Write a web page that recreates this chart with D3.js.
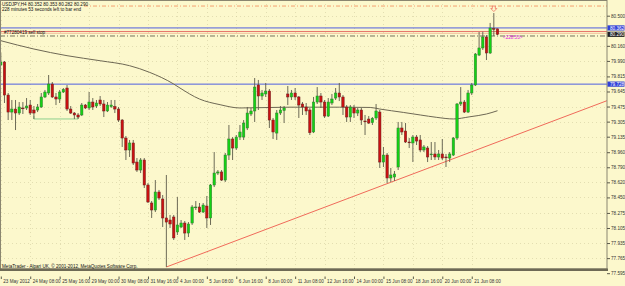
<!DOCTYPE html>
<html>
<head>
<meta charset="utf-8">
<script src="https://cdn.jsdelivr.net/npm/d3@7"></script>
<style>
  body { margin: 0; background: #fcf8cc; }
  svg { display: block; }
  text { font-family: "Liberation Sans", Arial, sans-serif; }
</style>
</head>
<body>
<svg id="chart" width="625" height="286"></svg>
<script>
// USDJPY H4, 23 May 2012 00:00 .. 22 Jun 2012 12:00 (one entry per bar)
const opens = [
  79.944,79.978,79.605,79.413,79.447,79.402,79.459,79.459,79.492,79.436,
  79.436,79.470,79.583,79.628,79.729,79.583,79.560,79.639,79.684,79.447,
  79.402,79.380,79.380,79.492,79.459,79.526,79.481,79.549,79.504,79.425,
  79.475,79.475,79.447,79.323,79.120,78.985,79.064,78.849,78.759,78.872,
  78.590,78.387,78.308,78.511,78.432,78.218,78.195,78.229,78.060,78.116,
  78.161,78.048,78.161,78.336,78.342,78.285,78.353,78.218,78.590,78.725,
  78.737,78.646,78.928,79.109,79.007,79.131,79.131,79.233,79.391,79.425,
  79.718,79.594,79.617,79.650,79.323,79.176,79.402,79.430,79.617,79.583,
  79.628,79.583,79.504,79.470,79.436,79.188,79.526,79.594,79.526,79.368,
  79.515,79.571,79.628,79.583,79.470,79.357,79.459,79.402,79.436,79.312,
  79.334,79.293,79.346,79.413,78.849,78.928,78.669,78.680,78.793,79.233,
  79.199,79.075,79.064,79.131,79.098,78.985,79.007,78.934,78.940,78.906,
  78.940,78.906,78.894,78.928,79.120,79.504,79.526,79.413,79.628,79.718,
  80.056,80.136,80.260,80.079,80.355,80.352
];
const highs = [
  80.079,79.989,79.628,79.549,79.549,79.526,79.526,79.571,79.549,79.481,
  79.504,79.628,79.662,79.831,79.752,79.628,79.662,79.684,79.718,79.481,
  79.413,79.402,79.515,79.504,79.639,79.571,79.549,79.594,79.549,79.526,
  79.549,79.549,79.470,79.334,79.143,79.098,79.098,78.894,78.894,78.894,
  78.612,78.409,78.646,78.534,78.477,78.703,78.252,78.252,78.454,78.195,
  78.184,78.172,78.364,78.409,78.387,78.387,78.466,78.601,78.962,78.759,
  78.759,78.951,79.267,79.131,79.154,79.267,79.323,79.470,79.459,79.797,
  79.775,79.662,79.741,79.673,79.346,79.436,79.481,79.481,79.707,79.662,
  79.684,79.594,79.526,79.515,79.459,79.583,79.695,79.628,79.549,79.571,
  79.617,79.684,79.741,79.605,79.492,79.492,79.492,79.459,79.459,79.380,
  79.368,79.357,79.504,79.436,79.019,78.951,78.782,78.748,79.301,79.301,
  79.289,79.120,79.154,79.154,79.154,79.041,79.030,79.075,79.075,78.985,
  79.109,78.940,78.962,79.131,79.515,79.695,79.549,79.662,79.741,80.079,
  80.316,80.319,80.282,80.418,80.530,80.353
];
const lows = [
  79.932,79.515,79.323,79.323,79.210,79.380,79.391,79.436,79.380,79.334,
  79.413,79.459,79.571,79.605,79.571,79.492,79.515,79.628,79.425,79.391,
  79.334,79.334,79.368,79.447,79.436,79.436,79.459,79.481,79.357,79.413,
  79.459,79.402,79.301,79.019,78.872,78.906,78.816,78.737,78.725,78.556,
  78.387,78.218,78.285,78.421,78.116,77.665,78.105,77.970,78.026,78.105,
  77.970,78.003,78.139,78.308,78.274,78.274,78.105,78.139,78.567,78.703,
  78.635,78.624,78.872,78.872,78.985,79.098,79.098,79.210,79.368,79.301,
  79.436,79.549,79.583,79.233,79.109,79.098,79.380,79.289,79.492,79.549,
  79.549,79.346,79.380,79.380,79.154,79.176,79.504,79.459,79.346,79.357,
  79.492,79.549,79.537,79.380,79.301,79.301,79.346,79.368,79.267,79.154,
  79.278,79.267,79.323,78.782,78.793,78.612,78.624,78.635,78.759,79.154,
  79.064,79.007,78.849,79.041,78.962,78.962,78.849,78.872,78.872,78.872,
  78.872,78.793,78.849,78.917,79.098,79.481,79.402,79.402,79.605,79.707,
  80.045,80.113,80.000,80.068,80.271,80.282
];
const closes = [
  79.978,79.605,79.413,79.447,79.402,79.470,79.453,79.481,79.402,79.402,
  79.470,79.583,79.639,79.729,79.583,79.560,79.639,79.667,79.447,79.402,
  79.380,79.357,79.492,79.459,79.526,79.470,79.515,79.504,79.425,79.492,
  79.492,79.447,79.323,79.120,78.985,79.064,78.838,78.759,78.872,78.590,
  78.398,78.308,78.511,78.443,78.218,78.172,78.150,77.993,78.139,78.161,
  78.048,78.150,78.342,78.342,78.285,78.364,78.218,78.590,78.725,78.737,
  78.646,78.928,79.109,79.007,79.131,79.188,79.289,79.402,79.425,79.695,
  79.594,79.628,79.650,79.323,79.188,79.402,79.436,79.459,79.583,79.628,
  79.583,79.492,79.470,79.425,79.180,79.526,79.594,79.526,79.368,79.526,
  79.560,79.628,79.583,79.470,79.357,79.470,79.402,79.436,79.323,79.306,
  79.289,79.342,79.425,78.849,78.928,78.669,78.703,78.714,79.233,79.188,
  79.075,79.069,79.131,79.086,78.985,79.019,78.906,78.940,78.906,78.940,
  78.894,78.900,78.940,79.120,79.504,79.526,79.413,79.628,79.718,80.068,
  80.136,80.260,80.079,80.361,80.350,80.290
];

// moving average: [bar index, price]
const maPoints = [
  [0,80.218],[9,80.124],[18,80.049],[27,79.992],[35,79.936],[40.5,79.860],
  [47,79.729],[48.7,79.684],[54,79.560],[59.6,79.496],[65,79.459],[78.6,79.468],
  [92,79.468],[100.4,79.465],[103,79.447],[109.4,79.409],[114,79.380],
  [118.5,79.353],[123,79.335],[127.5,79.360],[132,79.391],[135,79.428]
];

const timeIdx = [0,8,16,24,32,40,48,56,64,72,80,88,96,104,112,120,128];
const timeLabels = ["23 May 2012","24 May 08:00","25 May 16:00","29 May 00:00","30 May 08:00",
  "31 May 16:00","4 Jun 00:00","5 Jun 08:00","6 Jun 16:00","8 Jun 00:00","11 Jun 08:00",
  "12 Jun 16:00","14 Jun 00:00","15 Jun 08:00","18 Jun 16:00","20 Jun 00:00","21 Jun 08:00"];
const priceTicks = [80.500,80.160,79.990,79.815,79.645,79.475,79.305,79.135,78.960,
  78.790,78.620,78.450,78.275,78.105,77.935,77.765,77.595];

const blueLevels = [80.362, 79.728];
const askPrice = 80.322, bidPrice = 80.290;
const tpLevel = 80.609;
const sellStop = 80.271;
const supportLine = { from: 9, to: 21, price: 79.335 };
const trendLine = [[45, 77.665], [105, 78.605]];
const fractalUp = { idx: 134, price: 80.575 };

const svg = d3.select("#chart");
const W = 625, H = 286, plotR = 607, plotB = 269;

const x = d3.scaleLinear().domain([0, 135]).range([0.8, 497.5]);
const y = d3.scaleLinear().domain([77.595, 80.5]).range([273.2, 15.7]);

svg.append("rect").attr("width", W).attr("height", H).attr("fill", "#fcf8cc");

svg.append("defs").append("clipPath").attr("id", "plot")
  .append("rect").attr("x", 0).attr("y", 1).attr("width", plotR).attr("height", plotB - 1);

const plot = svg.append("g").attr("clip-path", "url(#plot)");

// dotted grid
plot.append("g").selectAll("line").data(priceTicks).join("line")
  .attr("x1", 0).attr("x2", plotR)
  .attr("y1", d => Math.round(y(d)) + 0.5).attr("y2", d => Math.round(y(d)) + 0.5)
  .attr("stroke", "#d2cda0").attr("stroke-width", 0.6).attr("stroke-dasharray", "1,3");
plot.append("g").selectAll("line").data(timeIdx).join("line")
  .attr("x1", d => Math.round(x(d)) + 0.5).attr("x2", d => Math.round(x(d)) + 0.5)
  .attr("y1", 0).attr("y2", plotB)
  .attr("stroke", "#d2cda0").attr("stroke-width", 0.6).attr("stroke-dasharray", "1,3");

// horizontal levels
plot.append("line").attr("x1", 84).attr("x2", plotR)
  .attr("y1", y(tpLevel)).attr("y2", y(tpLevel))
  .attr("stroke", "#f4a070").attr("stroke-width", 1).attr("stroke-dasharray", "4,2,1,2");
plot.selectAll(".blue").data(blueLevels).join("line").attr("class", "blue")
  .attr("x1", 0).attr("x2", plotR).attr("y1", d => y(d)).attr("y2", d => y(d))
  .attr("stroke", "#4f5fe0").attr("stroke-width", 1);
plot.append("line").attr("x1", 0).attr("x2", plotR)
  .attr("y1", y(askPrice)).attr("y2", y(askPrice))
  .attr("stroke", "#e05050").attr("stroke-width", 0.8);
plot.append("line").attr("x1", 0).attr("x2", plotR)
  .attr("y1", y(bidPrice) - 1).attr("y2", y(bidPrice) - 1)
  .attr("stroke", "#f0b090").attr("stroke-width", 0.8);
plot.append("line").attr("x1", 0).attr("x2", plotR)
  .attr("y1", y(sellStop)).attr("y2", y(sellStop))
  .attr("stroke", "#505040").attr("stroke-width", 0.8).attr("stroke-dasharray", "5,2,1,2");

// support line (green)
plot.append("path")
  .attr("d", d3.line()([[x(supportLine.from), y(supportLine.price) - 3],
    [x(supportLine.from), y(supportLine.price)], [x(supportLine.to), y(supportLine.price)],
    [x(supportLine.to), y(supportLine.price) - 3]]))
  .attr("fill", "none").attr("stroke", "#8ed08e").attr("stroke-width", 1);

// trend line ray
const slope = (trendLine[1][1] - trendLine[0][1]) / (trendLine[1][0] - trendLine[0][0]);
const endIdx = x.invert(plotR);
plot.append("line")
  .attr("x1", x(trendLine[0][0])).attr("y1", y(trendLine[0][1]))
  .attr("x2", x(endIdx)).attr("y2", y(trendLine[0][1] + slope * (endIdx - trendLine[0][0])))
  .attr("stroke", "#f06a5a").attr("stroke-width", 1);

// moving average
plot.append("path")
  .attr("d", d3.line().x(d => x(d[0])).y(d => y(d[1])).curve(d3.curveMonotoneX)(maPoints))
  .attr("fill", "none").attr("stroke", "#6e6854").attr("stroke-width", 1);

// candles
const bars = d3.range(opens.length).map(i => ({ i, o: opens[i], h: highs[i], l: lows[i], c: closes[i] }));
const cg = plot.append("g");
cg.selectAll(".wick").data(bars).join("line").attr("class", "wick")
  .attr("x1", d => x(d.i)).attr("x2", d => x(d.i))
  .attr("y1", d => y(d.h)).attr("y2", d => y(d.l))
  .attr("stroke", "#5c5a4a").attr("stroke-width", 0.9);
cg.selectAll(".body").data(bars).join("rect").attr("class", "body")
  .attr("x", d => x(d.i) - 1.2).attr("width", 2.4)
  .attr("y", d => y(Math.max(d.o, d.c)))
  .attr("height", d => Math.max(0.8, Math.abs(y(d.o) - y(d.c))))
  .attr("fill", d => d.c >= d.o ? "#14d214" : "#cc1010")
  .attr("stroke", d => d.c >= d.o ? "#2f7a2f" : "#6a2020").attr("stroke-width", 0.5);

// fractal arrow
const fx = x(fractalUp.idx), fy = y(fractalUp.price);
plot.append("path")
  .attr("d", `M${fx - 1.5},${fy - 3} h3 v2.5 h1.5 l-3,3 l-3,-3 h1.5 z`)
  .attr("fill", "none").attr("stroke", "#f07060").attr("stroke-width", 0.8);

// frame
svg.append("rect").attr("x", 0.5).attr("y", 0.5).attr("width", plotR - 0.5).attr("height", plotB - 0.5)
  .attr("fill", "none").attr("stroke", "#8a8670").attr("stroke-width", 1);
svg.append("line").attr("x1", 0).attr("x2", plotR + 1).attr("y1", plotB + 0.8).attr("y2", plotB + 0.8)
  .attr("stroke", "#6e6a55").attr("stroke-width", 2.4);

// price axis
const yAxis = svg.append("g").attr("transform", `translate(${plotR},0)`)
  .call(d3.axisRight(y).tickValues(priceTicks).tickSize(3).tickFormat(d3.format(".3f")));
yAxis.select(".domain").remove();
yAxis.selectAll("line").attr("stroke", "#5c5a4a");
yAxis.selectAll("text").attr("x", 4).attr("fill", "#333").style("font-size", "4.6px")
  .style("font-family", "'Liberation Sans', Arial, sans-serif");

// time axis
const xAxis = svg.append("g").attr("transform", `translate(0,${plotB})`)
  .call(d3.axisBottom(x).tickValues(timeIdx).tickSize(10).tickFormat((d, k) => timeLabels[k]));
xAxis.select(".domain").remove();
xAxis.selectAll("line").attr("y1", 7.5).attr("stroke", "#5c5a4a");
xAxis.selectAll("text").attr("text-anchor", "start").attr("x", 2).attr("y", 10.5)
  .attr("fill", "#333").style("font-size", "4.6px")
  .style("font-family", "'Liberation Sans', Arial, sans-serif");

// price boxes on the axis
const boxes = [
  { p: blueLevels[0], fill: "#3040d8", txt: "80.362" },
  { p: bidPrice, fill: "#222", txt: "80.290" },
  { p: blueLevels[1], fill: "#3040d8", txt: "79.728" }
];
const bg = svg.append("g").selectAll("g").data(boxes).join("g");
bg.append("rect").attr("x", plotR + 0.5).attr("width", 17).attr("y", d => y(d.p) - 2.6).attr("height", 5.2)
  .attr("fill", d => d.fill);
bg.append("text").attr("x", plotR + 3).attr("y", d => y(d.p)).attr("dy", "0.35em")
  .attr("fill", "#fff").style("font-size", "4.6px").text(d => d.txt);

// texts
const info = svg.append("g").style("font-size", "4.6px").attr("fill", "#111");
info.append("text").attr("x", 2).attr("y", 6.3).text("USDJPY,H4  80.352 80.353 80.282 80.290");
info.append("text").attr("x", 2).attr("y", 11).text("228 minutes 53 seconds left to bar end");
info.append("text").attr("x", 4).attr("y", y(sellStop) - 1.5).text("#77280419 sell stop");
info.append("text").attr("x", 2).attr("y", 268).text("MetaTrader - Alpari UK, \u00a9 2001-2012, MetaQuotes Software Corp.");
info.append("text").attr("x", 503).attr("y", y(bidPrice) + 5).attr("fill", "#e020e0").text("<228:53>");
</script>
</body>
</html>
